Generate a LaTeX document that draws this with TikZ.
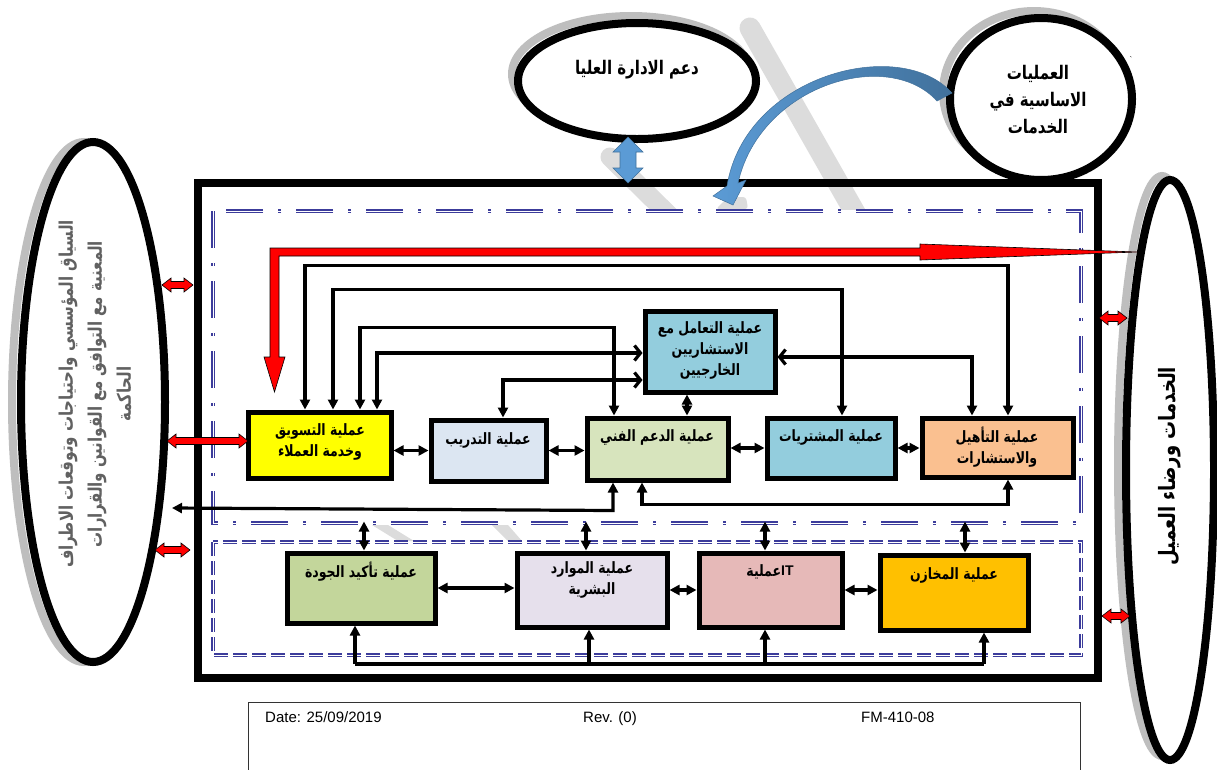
\documentclass[tikz,border=0pt]{standalone}
\usepackage{fontspec}
\setmainfont{Liberation Sans}
\newfontfamily\ar[Script=Arabic]{DejaVu Sans}
\TeXXeTstate=1
\usetikzlibrary{arrows.meta,shapes.geometric,calc}
\newcommand{\AR}[1]{\scalebox{1}[1.25]{\beginR #1\endR}}
\definecolor{wmgray}{RGB}{220,220,220}
\definecolor{shgray}{RGB}{190,190,190}
\definecolor{blueL}{RGB}{91,155,213}
\definecolor{blueD}{RGB}{65,113,156}
\definecolor{dashblue}{RGB}{60,60,155}
\definecolor{cYellow}{RGB}{255,255,0}
\definecolor{cTrain}{RGB}{220,230,242}
\definecolor{cTech}{RGB}{215,228,189}
\definecolor{cCons}{RGB}{147,205,221}
\definecolor{cQual}{RGB}{250,192,144}
\definecolor{cQA}{RGB}{195,214,155}
\definecolor{cHR}{RGB}{230,224,236}
\definecolor{cIT}{RGB}{230,185,184}
\definecolor{cWH}{RGB}{255,192,0}
\newcommand{\reddbl}[3]{\filldraw[redarr] (#1,#3) -- (#1+9,#3-7) -- (#1+9,#3-3.5) -- (#2-9,#3-3.5) -- (#2-9,#3-7) -- (#2,#3) -- (#2-9,#3+7) -- (#2-9,#3+3.5) -- (#1+9,#3+3.5) -- (#1+9,#3+7) -- cycle;}
\begin{document}
\begin{tikzpicture}[x=1pt,y=-1pt,
  ellnode/.style={ellipse,draw,fill=white,line width=8pt,inner sep=0pt},
  shadowline/.style={draw=shgray,line width=8pt},
  box/.style={draw,line width=5pt,inner sep=0pt},
  lbl/.style={align=center,font=\ar\bfseries\fontsize{12.5}{21}\selectfont,inner sep=0pt},
  conn/.style={line width=3.2pt},
  >={Triangle[length=10pt,width=10pt]},
  redarr/.style={fill=red,draw=black,line width=0.6pt},
  ddot/.style={draw=dashblue,line width=1.4pt,double=white,double distance=0.9pt,dash pattern=on 37pt off 15pt on 3pt off 15pt},
  ddash/.style={draw=dashblue,line width=1.4pt,double=white,double distance=0.9pt,dash pattern=on 14pt off 5pt},
  wm/.style={fill=wmgray},
  foot/.style={anchor=base west,font=\fontsize{15}{18}\selectfont,inner sep=0pt}
]
\fill[white] (0,0) rectangle (1217,769);
\useasboundingbox (0,0) rectangle (1217,769);

% watermark fragments
\begin{scope}
\clip (0,0) rectangle (1217,209);
\draw[draw=wmgray,line width=21pt,line cap=round] (750,28) -- (858,218);
\draw[draw=wmgray,line width=19pt,line cap=round] (610,157) -- (672,218);
\end{scope}
\fill[wm,rounded corners=3pt] (716,209) -- (728,197) -- (746,197) -- (748,209) -- cycle;
\fill[wm] (372,525) -- (388,525) -- (414,541) -- (398,541) -- cycle;
\fill[wm] (492,525) -- (508,525) -- (522,541) -- (508,541) -- cycle;

% shadows
\draw[shadowline] (631,74) ellipse [x radius=119, y radius=58];
\draw[shadowline] (1034,92) ellipse [x radius=91, y radius=81];
\draw[shadowline] (1162,466) ellipse [x radius=44, y radius=290];
\draw[shadowline] (84,402) ellipse [x radius=72, y radius=260];

% ellipses
\node[ellnode,minimum width=238pt,minimum height=116pt] (topE) at (637,81) {};
\node[ellnode,minimum width=182pt,minimum height=162pt] (circE) at (1041,99) {};
\node[ellnode,minimum width=88pt,minimum height=580pt] (rightE) at (1170,470) {};
\node[ellnode,minimum width=144pt,minimum height=520pt] (leftE) at (93,402) {};

\node[font=\ar\bfseries\fontsize{15}{18}\selectfont,inner sep=0pt] (tTop) at (637,70) {\AR{دعم الادارة العليا}};
\node[align=center,font=\ar\bfseries\fontsize{15}{27}\selectfont,inner sep=0pt] (tCirc) at (1038,100) {\AR{العمليات}\\\AR{الاساسية في}\\\AR{الخدمات}};
\node[rotate=90,font=\ar\bfseries\fontsize{18}{20}\selectfont,inner sep=0pt] (tRight) at (1170,466) {\AR{الخدمات ورضاء العميل}};
\node[rotate=90,align=center,text=black!62,font=\ar\bfseries\fontsize{15}{29}\selectfont,inner sep=0pt] (tLeft) at (95,394) {\AR{السياق المؤسسي واحتياجات وتوقعات الاطراف}\\\AR{المعنية مع التوافق مع القوانين والقرارات}\\\AR{الحاكمة}};
\node[font=\fontsize{8}{8}\selectfont,inner sep=0pt] (tick) at (1131,60) {\textasciigrave};

% frame
\node[draw,line width=8pt,minimum width=900pt,minimum height=495pt,inner sep=0pt] (frame) at (647.5,430.5) {};

% blue arrows
\filldraw[fill=blueL,draw=blueD,line width=0.6pt] (628,137) -- (643,152) -- (636,152) -- (636,168) -- (643,168) -- (628,183) -- (613,168) -- (620,168) -- (620,152) -- (613,152) -- cycle;
\shadedraw[left color=blueL,right color=blueD,draw=blueD,line width=0.5pt] (952,93) .. controls (900,35) and (745,75) .. (727,186) -- (713,196) -- (733,205) -- (746,180) -- (738,183) .. controls (760,85) and (888,47) .. (937,101) -- cycle;

% inner dashed frames
\draw[ddot] (213,211) rectangle (1081,523);
\draw[ddash] (213,542) rectangle (1081,655);

% red L arrow
\filldraw[redarr] (270,248) -- (920,248) -- (920,244) -- (1137,252) -- (920,260) -- (920,256) -- (279,256) -- (279,357) -- (285,357) -- (274.5,392) -- (264,357) -- (270,357) -- cycle;

% boxes
\node[box,fill=cYellow,minimum width=143pt,minimum height=66pt] (mkt) at (319.5,445) {};
\node[box,fill=cTrain,minimum width=115pt,minimum height=61pt] (trn) at (488.5,450.5) {};
\node[box,fill=cTech,minimum width=141pt,minimum height=62pt] (tech) at (657.5,449) {};
\node[box,fill=cCons,minimum width=130pt,minimum height=81pt] (cons) at (710,351.5) {};
\node[box,fill=cCons,minimum width=128pt,minimum height=60pt] (proc) at (831,448) {};
\node[box,fill=cQual,minimum width=151pt,minimum height=59pt] (qual) at (997.5,447.5) {};
\node[box,fill=cQA,minimum width=148pt,minimum height=70pt] (qa) at (361,588) {};
\node[box,fill=cHR,minimum width=150pt,minimum height=74pt] (hr) at (592,590) {};
\node[box,fill=cIT,minimum width=143pt,minimum height=74pt] (it) at (770.5,590) {};
\node[box,fill=cWH,minimum width=148pt,minimum height=75pt] (wh) at (954,592.5) {};

% connectors upper area
\draw[conn,<->] ([xshift=-14.5pt]mkt.north) -- ++(0,-144) -| ([xshift=10.5pt]qual.north);
\draw[conn,<->] ([xshift=13.5pt]mkt.north) -- ++(0,-120) -| ([xshift=11pt]proc.north);
\draw[conn,<->] ([xshift=40.5pt]mkt.north) -- ++(0,-82) -| ([xshift=-43.5pt]tech.north);
\draw[conn,{Triangle[length=10pt,width=10pt]}-{Straight Barb[length=6pt,width=15pt]}] ([xshift=57.5pt]mkt.north) |- ([yshift=-1.5pt]cons.west);
\draw[conn,{Triangle[length=10pt,width=10pt]}-{Straight Barb[length=6pt,width=15pt]}] ([xshift=14.5pt]trn.north) |- ([yshift=-28.5pt]cons.west);
\draw[conn,{Triangle[length=10pt,width=10pt]}-{Straight Barb[length=6pt,width=15pt]}] ([xshift=-25.5pt]qual.north) |- ([yshift=-5.5pt]cons.east);
\draw[conn,<->] ([xshift=-23pt]cons.south) -- ([xshift=29.5pt]tech.north);
\draw[conn,<->] (mkt.east |- trn.west) -- (trn.west);
\draw[conn,<->] (trn.east) -- (trn.east -| tech.west);
\draw[conn,<->] (tech.east |- proc.west) -- (proc.west);
\draw[conn,<->] (proc.east) -- (proc.east -| qual.west);
\draw[conn,<->] ([xshift=-15.5pt]tech.south) -- ++(0,22) -| ([xshift=10.5pt]qual.south);
\coordinate (leftTip) at (172,508);
\draw[conn,<->] ([xshift=-44.5pt]tech.south) -- ++(0,28) -- (leftTip);

% connectors lower area
\draw[conn,<->] ([xshift=3pt]qa.north) -- ++(0,-29);
\draw[conn,<->] ([xshift=-6pt]hr.north) -- ++(0,-29);
\draw[conn,<->] ([xshift=-5.5pt]it.north) -- ++(0,-29);
\draw[conn,<->] ([xshift=11pt]wh.north) -- ++(0,-31);
\draw[conn,<->] (qa.east) -- (qa.east -| hr.west);
\draw[conn,<->] (hr.east) -- (it.west);
\draw[conn,<->] (it.east) -- (it.east -| wh.west);
\coordinate (busA) at (355,664);
\coordinate (busB) at (589,664);
\coordinate (busC) at (765,664);
\coordinate (busD) at (984,664);
\draw[conn] (busA) -- (busD);
\draw[conn,->] (busA) -- (busA |- qa.south);
\draw[conn,->] (busB) -- (busB |- hr.south);
\draw[conn,->] (busC) -- (busC |- it.south);
\draw[conn,->] (busD) -- (busD |- wh.south);

% box labels
\node[lbl] (lmkt) at (320,442) {\AR{عملية التسويق}\\\AR{وخدمة العملاء}};
\node[lbl] (ltrn) at (488,440) {\AR{عملية التدريب}};
\node[lbl] (ltech) at (657,437) {\AR{عملية الدعم الفني}};
\node[lbl] (lcons) at (710,350) {\AR{عملية التعامل مع}\\\AR{الاستشاريين}\\\AR{الخارجيين}};
\node[lbl] (lproc) at (831,437) {\AR{عملية المشتريات}};
\node[lbl] (lqual) at (997,447) {\AR{عملية التأهيل}\\\AR{والاستشارات}};
\node[lbl] (lqa) at (361,572) {\AR{عملية تأكيد الجودة}};
\node[lbl] (lhr) at (592,580) {\AR{عملية الموارد}\\\AR{البشرية}};
\node[lbl] (lit) at (770,572) {\AR{عملية}\raisebox{1pt}{\fontspec{Liberation Sans}\bfseries\fontsize{14}{16}\selectfont IT}};
\node[lbl] (lwh) at (954,575) {\AR{عملية المخازن}};

% small red double arrows
\reddbl{162}{193}{285}
\reddbl{167}{248}{441}
\reddbl{155}{190}{550}
\reddbl{1099}{1127}{318}
\reddbl{1102}{1130}{616}

% footer
\draw[line width=0.8pt,black!80] (248,702) rectangle (1080,773);
\node[foot] (fdate) at (265,722) {Date: 25/09/2019};
\node[foot] (frev) at (583,722) {Rev. (0)};
\node[foot] (ffm) at (861,722) {FM-410-08};
\end{tikzpicture}
\end{document}
